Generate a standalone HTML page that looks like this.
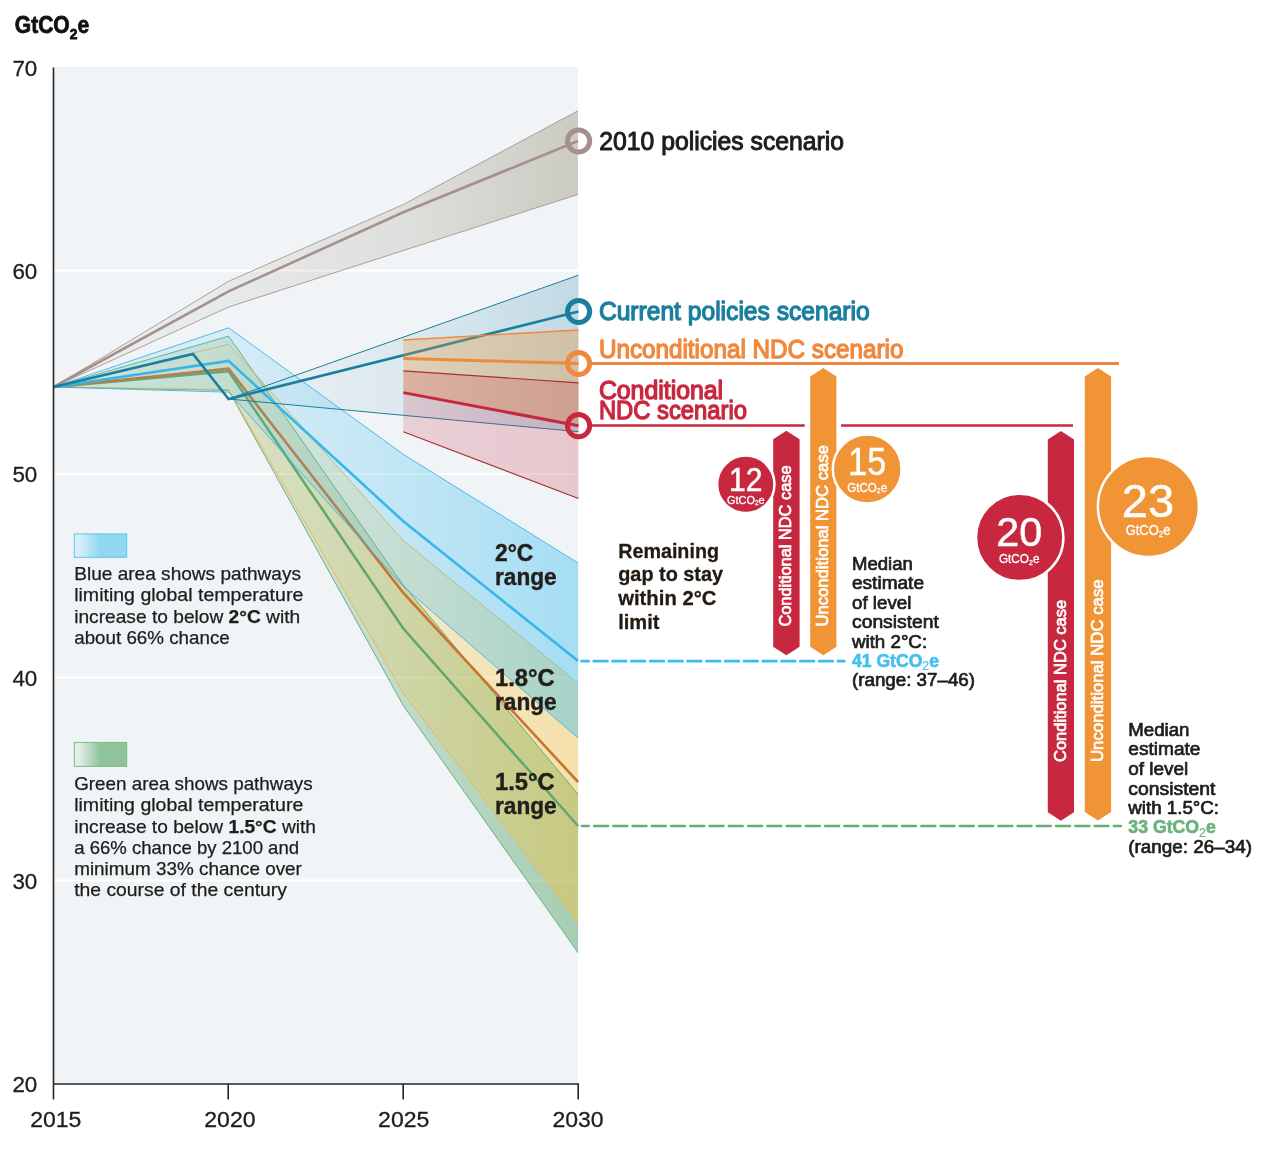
<!DOCTYPE html>
<html lang="en"><head><meta charset="utf-8"><title>Emissions gap chart</title>
<style>html,body{margin:0;padding:0;background:#fff}svg{display:block}text{font-family:"Liberation Sans", sans-serif}</style></head><body>
<svg width="1278" height="1150" viewBox="0 0 1278 1150">
<defs>
<linearGradient id="gGray" gradientUnits="userSpaceOnUse" x1="53.5" y1="0" x2="578.6" y2="0"><stop offset="0" stop-color="#898264" stop-opacity="0.05"/><stop offset="0.33" stop-color="#898264" stop-opacity="0.09"/><stop offset="0.67" stop-color="#898264" stop-opacity="0.18"/><stop offset="1" stop-color="#898264" stop-opacity="0.36"/></linearGradient>
<linearGradient id="gTeal" gradientUnits="userSpaceOnUse" x1="228.6" y1="0" x2="578.6" y2="0"><stop offset="0.000" stop-color="#2c86a8" stop-opacity="0.03"/><stop offset="0.500" stop-color="#2c86a8" stop-opacity="0.1"/><stop offset="1.000" stop-color="#2c86a8" stop-opacity="0.24"/></linearGradient>
<linearGradient id="gBlue" gradientUnits="userSpaceOnUse" x1="53.5" y1="0" x2="578.6" y2="0"><stop offset="0.000" stop-color="#45c0ee" stop-opacity="0.1"/><stop offset="0.333" stop-color="#45c0ee" stop-opacity="0.16"/><stop offset="0.667" stop-color="#45c0ee" stop-opacity="0.27"/><stop offset="1.000" stop-color="#45c0ee" stop-opacity="0.44"/></linearGradient>
<linearGradient id="gYel" gradientUnits="userSpaceOnUse" x1="53.5" y1="0" x2="578.6" y2="0"><stop offset="0.000" stop-color="#fbc437" stop-opacity="0.08"/><stop offset="0.333" stop-color="#fbc437" stop-opacity="0.13"/><stop offset="0.667" stop-color="#fbc437" stop-opacity="0.25"/><stop offset="1.000" stop-color="#fbc437" stop-opacity="0.4"/></linearGradient>
<linearGradient id="gGrn" gradientUnits="userSpaceOnUse" x1="53.5" y1="0" x2="578.6" y2="0"><stop offset="0.000" stop-color="#4fa062" stop-opacity="0.1"/><stop offset="0.333" stop-color="#4fa062" stop-opacity="0.17"/><stop offset="0.667" stop-color="#4fa062" stop-opacity="0.3"/><stop offset="1.000" stop-color="#4fa062" stop-opacity="0.46"/></linearGradient>
<linearGradient id="gOr" gradientUnits="userSpaceOnUse" x1="403.3" y1="0" x2="578.6" y2="0"><stop offset="0" stop-color="#e8953a" stop-opacity="0.3"/><stop offset="1" stop-color="#e8953a" stop-opacity="0.36"/></linearGradient>
<linearGradient id="gRed" gradientUnits="userSpaceOnUse" x1="403.3" y1="0" x2="578.6" y2="0"><stop offset="0" stop-color="#c8283f" stop-opacity="0.18"/><stop offset="1" stop-color="#c8283f" stop-opacity="0.22"/></linearGradient>
<linearGradient id="swB" x1="0" y1="0" x2="1" y2="0"><stop offset="0.1" stop-color="#d8eef6"/><stop offset="0.5" stop-color="#90d8f0"/></linearGradient>
<linearGradient id="swG" x1="0" y1="0" x2="1" y2="0"><stop offset="0.1" stop-color="#e2ede4"/><stop offset="0.5" stop-color="#8fc49b"/></linearGradient>
</defs>
<rect width="1278" height="1150" fill="#ffffff"/>
<rect x="53" y="67" width="525.1" height="1017" fill="#f0f4f7"/>
<line x1="54" y1="270.5" x2="578.6" y2="270.5" stroke="#ffffff" stroke-width="2"/>
<line x1="54" y1="474.0" x2="578.6" y2="474.0" stroke="#ffffff" stroke-width="2"/>
<line x1="54" y1="677.5" x2="578.6" y2="677.5" stroke="#ffffff" stroke-width="2"/>
<line x1="54" y1="880.5" x2="578.6" y2="880.5" stroke="#ffffff" stroke-width="2"/>
<polygon points="53.5,387.0 228.6,281.3 403.3,204.5 577.9,110.8 577.9,194.5 403.3,250.5 228.6,307.0 53.5,387.0" fill="url(#gGray)"/>
<polyline points="53.5,387.0 228.6,281.3 403.3,204.5 577.9,110.8" fill="none" stroke="#a8948c" stroke-width="0.9" stroke-linejoin="miter"/>
<polyline points="53.5,387.0 228.6,307.0 403.3,250.5 577.9,194.5" fill="none" stroke="#a8948c" stroke-width="0.9" stroke-linejoin="miter"/>
<polyline points="53.5,387.0 228.6,291.3 403.3,212.3 577.9,141.0" fill="none" stroke="#a5908b" stroke-width="2.6" stroke-linejoin="miter"/>
<polygon points="228.6,399.0 578.5,275.2 578.5,431.7 228.6,399.0" fill="url(#gTeal)"/>
<polygon points="53.5,387.0 228.6,336.2 403.3,585.0 578.1,794.3 578.1,952.7 403.3,705.6 228.6,390.4 53.5,387.0" fill="url(#gGrn)"/>
<polygon points="53.5,387.0 228.6,344.3 403.3,540.6 578.1,683.0 578.1,922.7 403.3,693.0 228.6,389.6 53.5,387.0" fill="url(#gYel)"/>
<polyline points="53.5,387.0 228.6,336.2 403.3,585.0 578.1,794.3" fill="none" stroke="#5fa872" stroke-width="0.9" stroke-linejoin="miter"/>
<polyline points="53.5,387.0 228.6,390.4 403.3,705.6 578.1,952.7" fill="none" stroke="#5fa872" stroke-width="0.9" stroke-linejoin="miter"/>
<polyline points="53.5,387.0 228.6,344.3 403.3,540.6 578.1,683.0" fill="none" stroke="#edb548" stroke-width="0.9" stroke-linejoin="miter"/>
<polyline points="53.5,387.0 228.6,389.6 403.3,693.0 578.1,922.7" fill="none" stroke="#edb548" stroke-width="0.9" stroke-linejoin="miter"/>
<polyline points="53.5,387.0 228.6,371.3 403.3,628.5 578.1,826.0" fill="none" stroke="#5ea76f" stroke-width="2.5" stroke-linejoin="miter"/>
<polyline points="53.5,387.0 228.6,368.7 403.3,593.0 578.1,782.0" fill="none" stroke="#c87431" stroke-width="2.6" stroke-linejoin="miter"/>
<polygon points="53.5,387.0 228.6,327.8 403.3,454.3 578.1,563.0 578.1,738.0 403.3,586.5 228.6,392.2 53.5,387.0" fill="url(#gBlue)"/>
<polyline points="53.5,387.0 228.6,327.8 403.3,454.3 578.1,563.0" fill="none" stroke="#3db4ea" stroke-width="0.9" stroke-linejoin="miter"/>
<polyline points="53.5,387.0 228.6,392.2 403.3,586.5 578.1,738.0" fill="none" stroke="#3db4ea" stroke-width="0.9" stroke-linejoin="miter"/>
<polyline points="53.5,387.0 228.6,360.9 403.3,521.3 578.1,661.0" fill="none" stroke="#38b6ec" stroke-width="2.6" stroke-linejoin="miter"/>
<polyline points="228.6,399.0 578.5,275.2" fill="none" stroke="#1b7f9e" stroke-width="1.0" stroke-linejoin="miter"/>
<polyline points="228.6,399.0 578.5,431.7" fill="none" stroke="#1b7f9e" stroke-width="1.0" stroke-linejoin="miter"/>
<polyline points="53.5,387.0 193.0,354.0 228.6,399.0 578.5,311.5" fill="none" stroke="#1b7f9e" stroke-width="2.6" stroke-linejoin="miter"/>
<polygon points="403.3,340.0 578.5,330.0 578.5,425.7 403.3,392.6" fill="url(#gOr)"/>
<polygon points="403.3,370.9 578.5,382.8 578.5,498.5 403.3,431.7" fill="url(#gRed)"/>
<polyline points="403.3,340.0 578.5,330.0" fill="none" stroke="#f0883e" stroke-width="1.4" stroke-linejoin="miter"/>
<polyline points="403.3,370.9 578.5,382.8" fill="none" stroke="#a8322a" stroke-width="1.2" stroke-linejoin="miter"/>
<polyline points="403.3,431.7 578.5,498.5" fill="none" stroke="#a8322a" stroke-width="1.2" stroke-linejoin="miter"/>
<polyline points="403.3,358.5 578.5,363.6" fill="none" stroke="#f0883e" stroke-width="3.0" stroke-linejoin="miter"/>
<polyline points="403.3,392.6 578.5,425.7" fill="none" stroke="#c8283f" stroke-width="3.0" stroke-linejoin="miter"/>
<path d="M53.5 67.5V1099.5M53 1084H579M228.2 1084V1099.5M403.2 1084V1099.5M578.2 1084V1099.5" fill="none" stroke="#262626" stroke-width="1.6"/>
<line x1="588.6" y1="363.5" x2="1119" y2="363.5" stroke="#ee8540" stroke-width="2.9"/>
<path d="M588.6 425.5H804.8M841 425.5H1073" stroke="#c8283f" stroke-width="2.7" fill="none"/>
<line x1="581.55" y1="661.2" x2="844.45" y2="661.2" stroke="#3dbbeb" stroke-width="2.7" stroke-linecap="round" stroke-dasharray="13.7 5.08" stroke-dashoffset="6.6"/>
<line x1="581.9" y1="826" x2="1120.9" y2="826" stroke="#66ad74" stroke-width="2.6" stroke-linecap="round" stroke-dasharray="13.8 5.45" stroke-dashoffset="7"/>
<circle cx="578.6" cy="141" r="11.1" fill="none" stroke="#a5908b" stroke-width="5"/>
<circle cx="578.6" cy="311.5" r="11.1" fill="none" stroke="#1b7f9e" stroke-width="5"/>
<circle cx="578.6" cy="363.5" r="11.1" fill="none" stroke="#f0883e" stroke-width="5"/>
<circle cx="578.6" cy="425.7" r="11.1" fill="none" stroke="#c8283f" stroke-width="5"/>
<path d="M773.2 439.3L786.4000000000001 430.8L799.6 439.3V646.7L786.4000000000001 655.2L773.2 646.7Z" fill="#c8283f"/>
<path d="M810.2 376.5L823.3 368.0L836.4 376.5V646.7L823.3 655.2L810.2 646.7Z" fill="#f09435"/>
<path d="M1047.8 439.5L1060.9 431.0L1074.0 439.5V812.2L1060.9 820.7L1047.8 812.2Z" fill="#c8283f"/>
<path d="M1084.8 376.5L1097.9499999999998 368.0L1111.1 376.5V812.0L1097.9499999999998 820.5L1084.8 812.0Z" fill="#f09435"/>
<circle cx="745.8" cy="484.3" r="28.7" fill="#c8283f" stroke="#ffffff" stroke-width="2.5"/>
<circle cx="867.2" cy="469.0" r="34.400000000000006" fill="#f09435" stroke="#ffffff" stroke-width="2.5"/>
<circle cx="1019.7" cy="537.4" r="43.7" fill="#c8283f" stroke="#ffffff" stroke-width="2.5"/>
<circle cx="1148.4" cy="506.4" r="50.5" fill="#f09435" stroke="#ffffff" stroke-width="2.5"/>
<text x="14.8" y="32.8" font-size="23.2" fill="#111111" font-weight="bold" textLength="74.3" lengthAdjust="spacingAndGlyphs" stroke="#111111" stroke-width="0.8" stroke-linejoin="round">GtCO<tspan font-size="15.3" dy="5.8">2</tspan><tspan dy="-5.8">e</tspan></text>
<text x="37.3" y="76.1" font-size="22.8" fill="#1d1d1b" text-anchor="end" textLength="24.9" lengthAdjust="spacingAndGlyphs" stroke="#1d1d1b" stroke-width="0.3" stroke-linejoin="round">70</text>
<text x="37.3" y="278.6" font-size="22.8" fill="#1d1d1b" text-anchor="end" textLength="24.9" lengthAdjust="spacingAndGlyphs" stroke="#1d1d1b" stroke-width="0.3" stroke-linejoin="round">60</text>
<text x="37.3" y="482.1" font-size="22.8" fill="#1d1d1b" text-anchor="end" textLength="24.9" lengthAdjust="spacingAndGlyphs" stroke="#1d1d1b" stroke-width="0.3" stroke-linejoin="round">50</text>
<text x="37.3" y="685.6" font-size="22.8" fill="#1d1d1b" text-anchor="end" textLength="24.9" lengthAdjust="spacingAndGlyphs" stroke="#1d1d1b" stroke-width="0.3" stroke-linejoin="round">40</text>
<text x="37.3" y="889.1" font-size="22.8" fill="#1d1d1b" text-anchor="end" textLength="24.9" lengthAdjust="spacingAndGlyphs" stroke="#1d1d1b" stroke-width="0.3" stroke-linejoin="round">30</text>
<text x="37.3" y="1091.8" font-size="22.8" fill="#1d1d1b" text-anchor="end" textLength="24.9" lengthAdjust="spacingAndGlyphs" stroke="#1d1d1b" stroke-width="0.3" stroke-linejoin="round">20</text>
<text x="55.8" y="1126.8" font-size="22.3" fill="#1d1d1b" text-anchor="middle" textLength="51.2" lengthAdjust="spacingAndGlyphs" stroke="#1d1d1b" stroke-width="0.3" stroke-linejoin="round">2015</text>
<text x="229.9" y="1126.8" font-size="22.3" fill="#1d1d1b" text-anchor="middle" textLength="51.2" lengthAdjust="spacingAndGlyphs" stroke="#1d1d1b" stroke-width="0.3" stroke-linejoin="round">2020</text>
<text x="403.7" y="1126.8" font-size="22.3" fill="#1d1d1b" text-anchor="middle" textLength="51.2" lengthAdjust="spacingAndGlyphs" stroke="#1d1d1b" stroke-width="0.3" stroke-linejoin="round">2025</text>
<text x="578.0" y="1126.8" font-size="22.3" fill="#1d1d1b" text-anchor="middle" textLength="51.2" lengthAdjust="spacingAndGlyphs" stroke="#1d1d1b" stroke-width="0.3" stroke-linejoin="round">2030</text>
<text x="599.3" y="150" font-size="25" fill="#1d1d1b" textLength="244.8" lengthAdjust="spacingAndGlyphs" stroke="#1d1d1b" stroke-width="1.0" stroke-linejoin="round">2010 policies scenario</text>
<text x="598.9" y="319.7" font-size="25.3" fill="#1b7f9e" textLength="270.8" lengthAdjust="spacingAndGlyphs" stroke="#1b7f9e" stroke-width="1.3" stroke-linejoin="round">Current policies scenario</text>
<text x="598.9" y="357.6" font-size="25.3" fill="#f0883e" textLength="304.6" lengthAdjust="spacingAndGlyphs" stroke="#f0883e" stroke-width="1.3" stroke-linejoin="round">Unconditional NDC scenario</text>
<text x="598.9" y="398.5" font-size="25.3" fill="#c8283f" textLength="124.2" lengthAdjust="spacingAndGlyphs" stroke="#c8283f" stroke-width="1.3" stroke-linejoin="round">Conditional</text>
<text x="598.9" y="419.1" font-size="25.3" fill="#c8283f" textLength="148" lengthAdjust="spacingAndGlyphs" stroke="#c8283f" stroke-width="1.3" stroke-linejoin="round">NDC scenario</text>
<text x="495.0" y="560.9" font-size="23" fill="#221e1b" font-weight="bold" textLength="38.4" lengthAdjust="spacingAndGlyphs" stroke="#221e1b" stroke-width="0.4" stroke-linejoin="round">2°C</text>
<text x="495.0" y="584.6999999999999" font-size="23" fill="#221e1b" font-weight="bold" textLength="61.7" lengthAdjust="spacingAndGlyphs" stroke="#221e1b" stroke-width="0.4" stroke-linejoin="round">range</text>
<text x="495.0" y="686.2" font-size="23" fill="#221e1b" font-weight="bold" textLength="59.8" lengthAdjust="spacingAndGlyphs" stroke="#221e1b" stroke-width="0.4" stroke-linejoin="round">1.8°C</text>
<text x="495.0" y="710.0" font-size="23" fill="#221e1b" font-weight="bold" textLength="61.7" lengthAdjust="spacingAndGlyphs" stroke="#221e1b" stroke-width="0.4" stroke-linejoin="round">range</text>
<text x="495.0" y="790.0" font-size="23" fill="#221e1b" font-weight="bold" textLength="59.5" lengthAdjust="spacingAndGlyphs" stroke="#221e1b" stroke-width="0.4" stroke-linejoin="round">1.5°C</text>
<text x="495.0" y="813.8" font-size="23" fill="#221e1b" font-weight="bold" textLength="61.7" lengthAdjust="spacingAndGlyphs" stroke="#221e1b" stroke-width="0.4" stroke-linejoin="round">range</text>
<text x="618.2" y="557.5" font-size="20.8" fill="#231a12" font-weight="bold" textLength="100.8" lengthAdjust="spacingAndGlyphs" stroke="#231a12" stroke-width="0.3" stroke-linejoin="round">Remaining</text>
<text x="618.2" y="581.3" font-size="20.8" fill="#231a12" font-weight="bold" textLength="104.9" lengthAdjust="spacingAndGlyphs" stroke="#231a12" stroke-width="0.3" stroke-linejoin="round">gap to stay</text>
<text x="618.2" y="605.1" font-size="20.8" fill="#231a12" font-weight="bold" textLength="98.3" lengthAdjust="spacingAndGlyphs" stroke="#231a12" stroke-width="0.3" stroke-linejoin="round">within 2°C</text>
<text x="618.2" y="628.9" font-size="20.8" fill="#231a12" font-weight="bold" textLength="41.3" lengthAdjust="spacingAndGlyphs" stroke="#231a12" stroke-width="0.3" stroke-linejoin="round">limit</text>
<text x="852.0" y="569.9" font-size="18" fill="#1d1d1b" textLength="60.8" lengthAdjust="spacingAndGlyphs" stroke="#1d1d1b" stroke-width="0.7" stroke-linejoin="round">Median</text>
<text x="852.0" y="589.4" font-size="18" fill="#1d1d1b" textLength="72" lengthAdjust="spacingAndGlyphs" stroke="#1d1d1b" stroke-width="0.7" stroke-linejoin="round">estimate</text>
<text x="852.0" y="608.8" font-size="18" fill="#1d1d1b" textLength="59.5" lengthAdjust="spacingAndGlyphs" stroke="#1d1d1b" stroke-width="0.7" stroke-linejoin="round">of level</text>
<text x="852.0" y="628.4" font-size="18" fill="#1d1d1b" textLength="86.9" lengthAdjust="spacingAndGlyphs" stroke="#1d1d1b" stroke-width="0.7" stroke-linejoin="round">consistent</text>
<text x="852.0" y="647.8" font-size="18" fill="#1d1d1b" textLength="75.1" lengthAdjust="spacingAndGlyphs" stroke="#1d1d1b" stroke-width="0.7" stroke-linejoin="round">with 2°C:</text>
<text x="852.0" y="666.6" font-size="18" fill="#45bfee" font-weight="bold" textLength="87" lengthAdjust="spacingAndGlyphs" stroke="#45bfee" stroke-width="0.6" stroke-linejoin="round">41 GtCO<tspan font-size="12.6" dy="3.6" font-weight="normal" stroke-width="0.2">2</tspan><tspan dy="-3.6">e</tspan></text>
<text x="852.0" y="686.2" font-size="18" fill="#1d1d1b" textLength="123" lengthAdjust="spacingAndGlyphs" stroke="#1d1d1b" stroke-width="0.7" stroke-linejoin="round">(range: 37–46)</text>
<text x="1128.3" y="735.9" font-size="18" fill="#1d1d1b" textLength="61.2" lengthAdjust="spacingAndGlyphs" stroke="#1d1d1b" stroke-width="0.7" stroke-linejoin="round">Median</text>
<text x="1128.3" y="755.4" font-size="18" fill="#1d1d1b" textLength="72.2" lengthAdjust="spacingAndGlyphs" stroke="#1d1d1b" stroke-width="0.7" stroke-linejoin="round">estimate</text>
<text x="1128.3" y="774.8" font-size="18" fill="#1d1d1b" textLength="60" lengthAdjust="spacingAndGlyphs" stroke="#1d1d1b" stroke-width="0.7" stroke-linejoin="round">of level</text>
<text x="1128.3" y="794.5" font-size="18" fill="#1d1d1b" textLength="87.2" lengthAdjust="spacingAndGlyphs" stroke="#1d1d1b" stroke-width="0.7" stroke-linejoin="round">consistent</text>
<text x="1128.3" y="813.7" font-size="18" fill="#1d1d1b" textLength="90.7" lengthAdjust="spacingAndGlyphs" stroke="#1d1d1b" stroke-width="0.7" stroke-linejoin="round">with 1.5°C:</text>
<text x="1128.3" y="833.3" font-size="18" fill="#6ab27a" font-weight="bold" textLength="87.5" lengthAdjust="spacingAndGlyphs" stroke="#6ab27a" stroke-width="0.6" stroke-linejoin="round">33 GtCO<tspan font-size="12.6" dy="3.6" font-weight="normal" stroke-width="0.2">2</tspan><tspan dy="-3.6">e</tspan></text>
<text x="1128.3" y="852.7" font-size="18" fill="#1d1d1b" textLength="123.8" lengthAdjust="spacingAndGlyphs" stroke="#1d1d1b" stroke-width="0.7" stroke-linejoin="round">(range: 26–34)</text>
<rect x="74.3" y="533.9" width="52.4" height="23.4" fill="url(#swB)" stroke="#5cc4ef" stroke-width="1"/>
<text x="74.2" y="579.7" font-size="18.2" fill="#1d1d1b" textLength="226.8" lengthAdjust="spacingAndGlyphs" stroke="#1d1d1b" stroke-width="0.25" stroke-linejoin="round">Blue area shows pathways</text>
<text x="74.2" y="601.3" font-size="18.2" fill="#1d1d1b" textLength="229.1" lengthAdjust="spacingAndGlyphs" stroke="#1d1d1b" stroke-width="0.25" stroke-linejoin="round">limiting global temperature</text>
<text x="74.2" y="622.6" font-size="18.2" fill="#1d1d1b" textLength="226" lengthAdjust="spacingAndGlyphs" stroke="#1d1d1b" stroke-width="0.25" stroke-linejoin="round">increase to below <tspan font-weight="bold">2°C</tspan> with</text>
<text x="74.2" y="643.8" font-size="18.2" fill="#1d1d1b" textLength="155.6" lengthAdjust="spacingAndGlyphs" stroke="#1d1d1b" stroke-width="0.25" stroke-linejoin="round">about 66% chance</text>
<rect x="74.3" y="742.4" width="52.4" height="24" fill="url(#swG)" stroke="#7cbb89" stroke-width="1"/>
<text x="74.2" y="790.2" font-size="18.2" fill="#1d1d1b" textLength="238.5" lengthAdjust="spacingAndGlyphs" stroke="#1d1d1b" stroke-width="0.25" stroke-linejoin="round">Green area shows pathways</text>
<text x="74.2" y="811.4" font-size="18.2" fill="#1d1d1b" textLength="229.1" lengthAdjust="spacingAndGlyphs" stroke="#1d1d1b" stroke-width="0.25" stroke-linejoin="round">limiting global temperature</text>
<text x="74.2" y="832.6" font-size="18.2" fill="#1d1d1b" textLength="241.8" lengthAdjust="spacingAndGlyphs" stroke="#1d1d1b" stroke-width="0.25" stroke-linejoin="round">increase to below <tspan font-weight="bold">1.5°C</tspan> with</text>
<text x="74.2" y="853.9" font-size="18.2" fill="#1d1d1b" textLength="224.9" lengthAdjust="spacingAndGlyphs" stroke="#1d1d1b" stroke-width="0.25" stroke-linejoin="round">a 66% chance by 2100 and</text>
<text x="74.2" y="875.1" font-size="18.2" fill="#1d1d1b" textLength="227.7" lengthAdjust="spacingAndGlyphs" stroke="#1d1d1b" stroke-width="0.25" stroke-linejoin="round">minimum 33% chance over</text>
<text x="74.2" y="896.0" font-size="18.2" fill="#1d1d1b" textLength="212.7" lengthAdjust="spacingAndGlyphs" stroke="#1d1d1b" stroke-width="0.25" stroke-linejoin="round">the course of the century</text>
<text transform="translate(791.4 626.6) rotate(-90)" font-size="16.5" fill="#ffffff" textLength="161.2" lengthAdjust="spacingAndGlyphs" stroke="#ffffff" stroke-width="0.7">Conditional NDC case</text>
<text transform="translate(828.4 626.6) rotate(-90)" font-size="16.5" fill="#ffffff" textLength="181.6" lengthAdjust="spacingAndGlyphs" stroke="#ffffff" stroke-width="0.7">Unconditional NDC case</text>
<text transform="translate(1066.2 762.0) rotate(-90)" font-size="16.5" fill="#ffffff" textLength="162.2" lengthAdjust="spacingAndGlyphs" stroke="#ffffff" stroke-width="0.7">Conditional NDC case</text>
<text transform="translate(1103.0 762.0) rotate(-90)" font-size="16.5" fill="#ffffff" textLength="182.6" lengthAdjust="spacingAndGlyphs" stroke="#ffffff" stroke-width="0.7">Unconditional NDC case</text>
<text x="745.8" y="490.5" font-size="32.5" fill="#ffffff" text-anchor="middle" textLength="33.4" lengthAdjust="spacingAndGlyphs" stroke="#ffffff" stroke-width="0.5" stroke-linejoin="round">12</text><text x="745.8" y="503.5" font-size="11.5" fill="#ffffff" text-anchor="middle" textLength="37.6" lengthAdjust="spacingAndGlyphs" stroke="#ffffff" stroke-width="0.3" stroke-linejoin="round">GtCO<tspan font-size="6.9" dy="1.4">2</tspan><tspan dy="-1.4">e</tspan></text>
<text x="867.2" y="475.0" font-size="38.2" fill="#ffffff" text-anchor="middle" textLength="37.8" lengthAdjust="spacingAndGlyphs" stroke="#ffffff" stroke-width="0.5" stroke-linejoin="round">15</text><text x="867.2" y="491.5" font-size="12.4" fill="#ffffff" text-anchor="middle" textLength="39.7" lengthAdjust="spacingAndGlyphs" stroke="#ffffff" stroke-width="0.3" stroke-linejoin="round">GtCO<tspan font-size="7.4" dy="1.5">2</tspan><tspan dy="-1.5">e</tspan></text>
<text x="1019.2" y="546.3" font-size="41.3" fill="#ffffff" text-anchor="middle" stroke="#ffffff" stroke-width="0.5" stroke-linejoin="round">20</text><text x="1019.2" y="563" font-size="12.7" fill="#ffffff" text-anchor="middle" textLength="40.4" lengthAdjust="spacingAndGlyphs" stroke="#ffffff" stroke-width="0.3" stroke-linejoin="round">GtCO<tspan font-size="7.6" dy="1.5">2</tspan><tspan dy="-1.5">e</tspan></text>
<text x="1148.0" y="516.7" font-size="47" fill="#ffffff" text-anchor="middle" stroke="#ffffff" stroke-width="0.5" stroke-linejoin="round">23</text><text x="1148.0" y="535" font-size="14" fill="#ffffff" text-anchor="middle" textLength="44.7" lengthAdjust="spacingAndGlyphs" stroke="#ffffff" stroke-width="0.3" stroke-linejoin="round">GtCO<tspan font-size="8.4" dy="1.7">2</tspan><tspan dy="-1.7">e</tspan></text>
</svg></body></html>
